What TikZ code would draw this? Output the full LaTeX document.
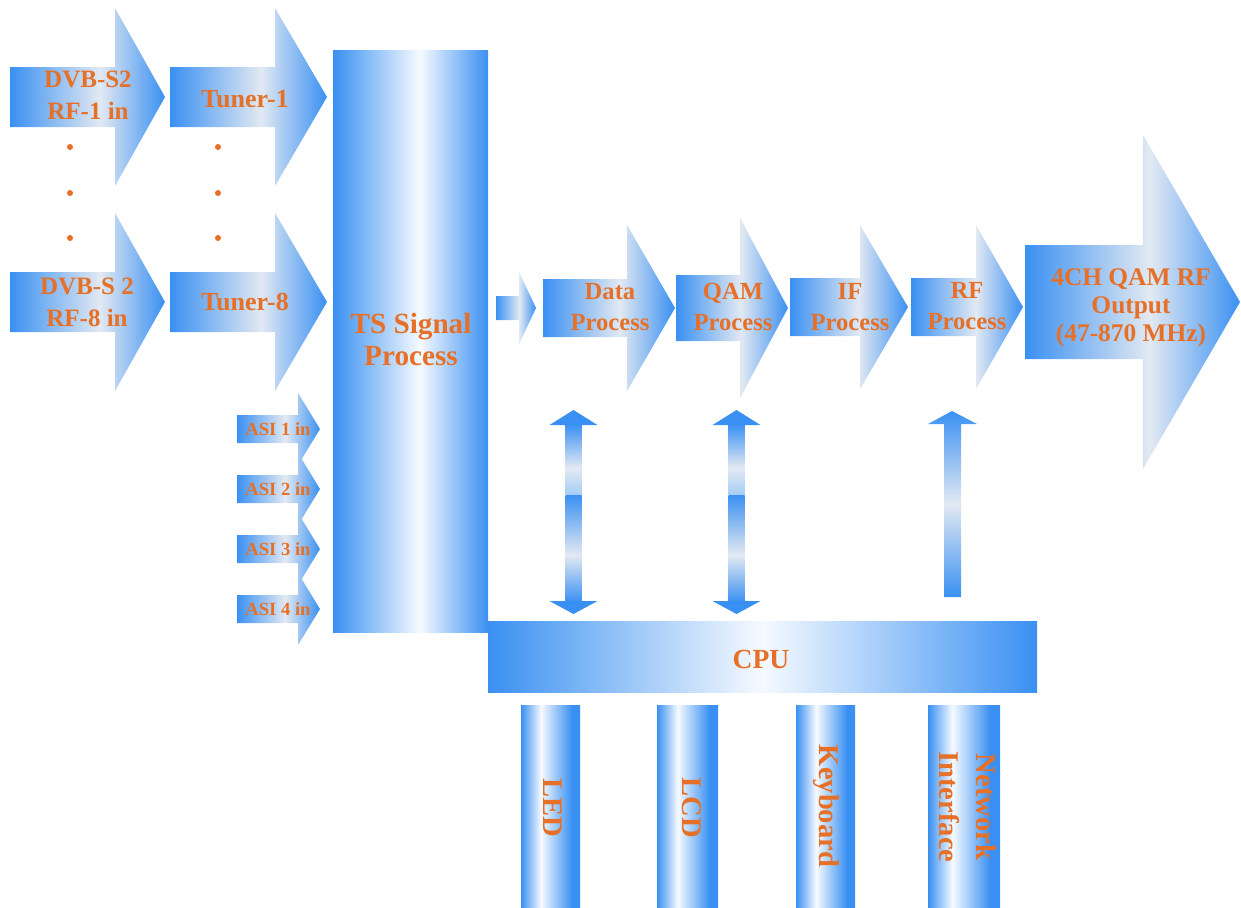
\documentclass[tikz,border=0pt]{standalone}
\usepackage{fontspec}
\setmainfont{Liberation Serif}
\definecolor{ab}{RGB}{58,144,242}
\definecolor{aw}{RGB}{226,233,242}
\definecolor{cw}{RGB}{246,250,255}
\definecolor{lb}{RGB}{165,205,245}
\definecolor{org}{RGB}{230,112,40}
\pgfdeclarehorizontalshading{arrowsh}{100bp}{color(0bp)=(ab); color(25bp)=(ab); color(54bp)=(aw); color(75bp)=(ab); color(100bp)=(ab)}
\pgfdeclarehorizontalshading{colsh}{100bp}{color(0bp)=(ab); color(25bp)=(ab); color(53bp)=(cw); color(75bp)=(ab); color(100bp)=(ab)}
\pgfdeclarehorizontalshading{cpush}{100bp}{color(0bp)=(ab); color(25bp)=(ab); color(50bp)=(cw); color(75bp)=(ab); color(100bp)=(ab)}
\pgfdeclarehorizontalshading{barsh}{100bp}{color(0bp)=(ab); color(25bp)=(ab); color(42bp)=(cw); color(68bp)=(ab); color(100bp)=(ab)}
\pgfdeclareverticalshading{upsh}{100bp}{color(0bp)=(ab); color(25bp)=(ab); color(50bp)=(aw); color(75bp)=(ab); color(100bp)=(ab)}
\pgfdeclareverticalshading{dtop}{100bp}{color(0bp)=(lb); color(25bp)=(lb); color(44bp)=(aw); color(75bp)=(ab); color(100bp)=(ab)}
\pgfdeclareverticalshading{dbot}{100bp}{color(0bp)=(ab); color(25bp)=(ab); color(47bp)=(aw); color(75bp)=(ab); color(100bp)=(ab)}
% block arrow: #1 shaft left x, #2 head base x, #3 tip x, #4 centre y, #5 shaft half height, #6 head half height
\newcommand\blkarrow[6]{\shade[shading=arrowsh] (#1,#4-#5) -- (#2,#4-#5) -- (#2,#4-#6) -- (#3,#4) -- (#2,#4+#6) -- (#2,#4+#5) -- (#1,#4+#5) -- cycle;}
% double vertical arrow centred at x=#1
\newcommand\dblarrow[1]{%
  \shade[shading=dtop] (#1-8,424) rectangle (#1+8,495);
  \shade[shading=dbot] (#1-8,495) rectangle (#1+8,602);
  \fill[ab] (#1-24,425) -- (#1,410) -- (#1+24,425) -- cycle;
  \fill[ab] (#1-24,601) -- (#1,614) -- (#1+24,601) -- cycle;}
\tikzset{
  lbl/.style={text=org, align=center, inner sep=0pt},
  fA/.style={font=\fontsize{12.5}{16}\selectfont\bfseries},
  fB/.style={font=\fontsize{12.3}{15.5}\selectfont\bfseries},
  fC/.style={font=\fontsize{14.3}{18.5}\selectfont\bfseries},
}
\begin{document}
\begin{tikzpicture}[x=0.5pt,y=-0.5pt]
\useasboundingbox (0,0) rectangle (1241,907);
% input arrows
\blkarrow{10}{115}{165}{97}{30}{89}
\blkarrow{10}{115}{165}{302}{30}{89}
\blkarrow{170}{275}{327}{97}{30}{89}
\blkarrow{170}{275}{327}{302}{30}{89}
% dots
\foreach \yy in {147,193,238}{
  \fill[org] (70,\yy) circle (3);
  \fill[org] (218,\yy) circle (3);
}
% TS column
\shade[shading=colsh] (333,50) rectangle (488,632);
% ASI arrows
\foreach \yy in {429,489,549,609}{\blkarrow{237}{298}{320}{\yy}{14}{36}}
% processing chain
\blkarrow{496}{519}{536}{308}{12}{36}
\blkarrow{543}{627}{675}{308}{29}{83}
\blkarrow{676}{740}{788}{308}{33}{90}
\blkarrow{790}{860}{908}{307}{29}{82}
\blkarrow{911}{976}{1023}{307}{29}{82}
\blkarrow{1025}{1143}{1240}{302}{57}{167}
% CPU links
\dblarrow{573.5}
\dblarrow{736.5}
\shade[shading=upsh] (944,597) -- (944,424) -- (928,424) -- (952,411) -- (977,424) -- (961,424) -- (961,597) -- cycle;
% CPU bar
\shade[shading=cpush] (488,621) rectangle (1037,692);
% peripheral bars
\foreach \xa/\xb in {521/580,657/718,796/855,928/1000}{
  \shade[shading=barsh] (\xa,705) rectangle (\xb,907);
}
% labels
\node[lbl,fA] (dvb1) at (88,95) {DVB-S2\\RF-1 in};
\node[lbl,fA] (dvb8) at (87,302) {DVB-S 2\\RF-8 in};
\node[lbl,font=\fontsize{13}{15}\selectfont\bfseries] (tun1) at (245,99) {Tuner-1};
\node[lbl,font=\fontsize{13}{15}\selectfont\bfseries] (tun8) at (245,302) {Tuner-8};
\node[lbl,font=\fontsize{14.6}{16}\selectfont\bfseries] (ts) at (411,339) {TS Signal\\Process};
\node[lbl,font=\fontsize{9.3}{11}\selectfont\bfseries] (asi1) at (278,429) {ASI 1 in};
\node[lbl,font=\fontsize{9.3}{11}\selectfont\bfseries] (asi2) at (278,489) {ASI 2 in};
\node[lbl,font=\fontsize{9.3}{11}\selectfont\bfseries] (asi3) at (278,549) {ASI 3 in};
\node[lbl,font=\fontsize{9.3}{11}\selectfont\bfseries] (asi4) at (278,609) {ASI 4 in};
\node[lbl,fB] (data) at (610,307) {Data\\Process};
\node[lbl,fB] (qam) at (733,307) {QAM\\Process};
\node[lbl,fB] (if) at (850,307) {IF\\Process};
\node[lbl,fB] (rf) at (967,306) {RF\\Process};
\node[lbl,font=\fontsize{12.7}{14}\selectfont\bfseries] (out) at (1131,308) {4CH QAM RF\\Output\\(47-870 MHz)};
\node[lbl,font=\fontsize{13.8}{16}\selectfont\bfseries] (cpu) at (761,659) {CPU};
\node[lbl,fC,rotate=-90] (led) at (553,808) {LED};
\node[lbl,fC,rotate=-90] (lcd) at (692,808) {LCD};
\node[lbl,fC,rotate=-90] (kbd) at (826,806) {Keyboard};
\node[lbl,fC,rotate=-90] (net) at (968,807) {Network\\Interface};
\end{tikzpicture}
\end{document}
